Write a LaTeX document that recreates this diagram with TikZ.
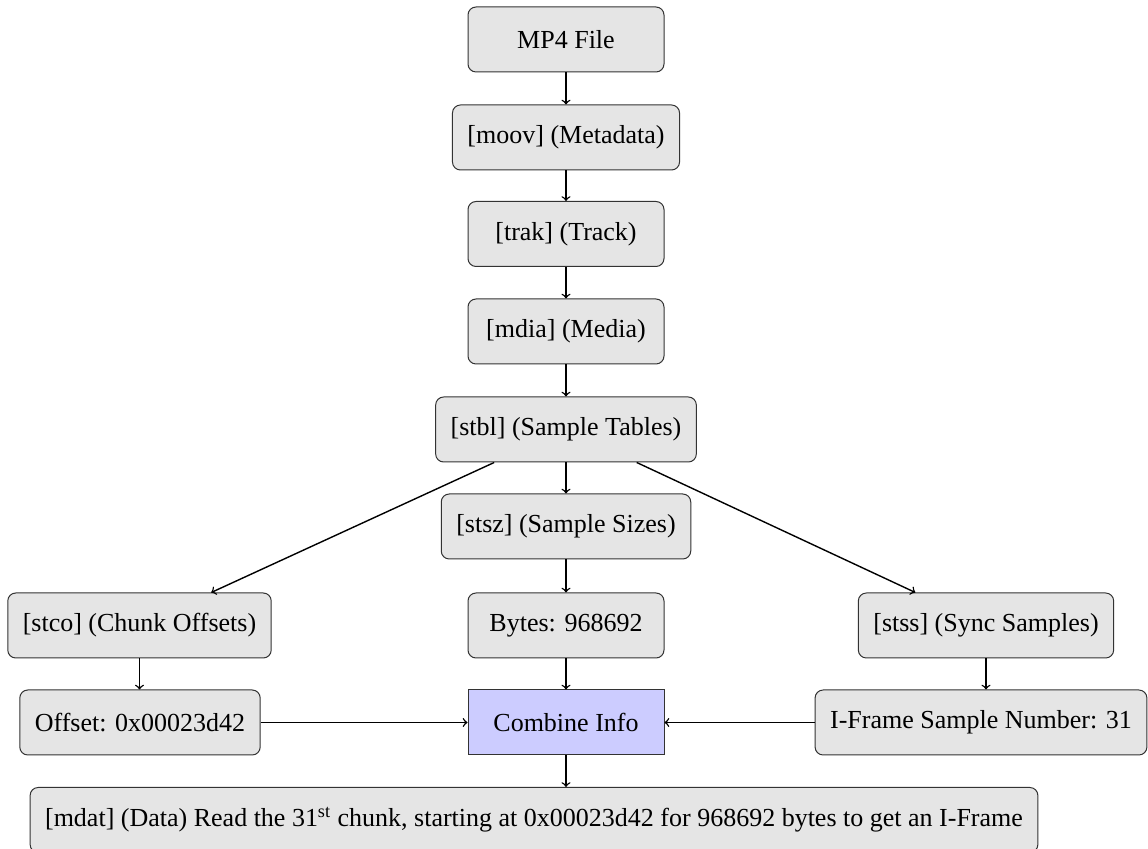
\documentclass[tikz,border=0pt]{standalone}
\usepackage{fontspec}
\setmainfont{Liberation Serif}
\begin{document}
\begin{tikzpicture}[x=0.5pt,y=-0.5pt,
  box/.style={draw=black!80, line width=0.5pt, fill=black!10, rounded corners=4pt,
    minimum width=98pt, minimum height=32.5pt, inner xsep=7.5pt, font=\fontsize{13}{15}\selectfont},
  mixbox/.style={box, rounded corners=0pt, fill=blue!20},
  link/.style={->, line width=0.7pt, black}]
\useasboundingbox (0,0) rectangle (1148,849);
\begin{scope}
\clip (0,0) rectangle (1148,849);
% main chain of boxes
\node[box] (mp4)    at (566,39.5)  {MP4 File};
\node[box] (moov)   at (566,137.5) {[moov] (Metadata)};
\node[box] (trak)   at (566,234)   {[trak] (Track)};
\node[box] (mdia)   at (566,331.5) {[mdia] (Media)};
\node[box] (stbl)   at (566,429.5) {[stbl] (Sample Tables)};
\node[box] (stsz)   at (566,526.5) {[stsz] (Sample Sizes)};
% three sample tables
\node[box] (stco)   at (139.5,625.5) {[stco] (Chunk Offsets)};
\node[box] (bytes)  at (566,625.5) {Bytes: 968692};
\node[box] (stss)   at (986,625.5) {[stss] (Sync Samples)};
% values read from them
\node[box] (offset) at (140,722.5) {Offset: 0x00023d42};
\node[mixbox] (combine) at (566,722.5) {Combine Info};
\node[box] (iframe) at (981,722.5) {I-Frame Sample Number: 31};
\node[box] (mdat)   at (534,820) {[mdat] (Data) Read the 31\textsuperscript{st} chunk, starting at 0x00023d42 for 968692 bytes to get an I-Frame};

\draw[link] (mp4) -- (moov);
\draw[link] (moov) -- (trak);
\draw[link] (trak) -- (mdia);
\draw[link] (mdia) -- (stbl);
\draw[link] (stbl) -- (stsz);
\draw[link] (stbl) -- (stco);
\draw[link] (stbl) -- (stss);
\draw[link] (stsz) -- (bytes);
\draw[link] (stco) -- (stco |- offset.north);
\draw[link] (stss) -- (stss |- iframe.north);
\draw[link] (bytes) -- (combine);
\draw[link] (offset) -- (combine);
\draw[link] (iframe) -- (combine);
\draw[link] (combine) -- (combine |- mdat.north);
\end{scope}
\end{tikzpicture}
\end{document}
